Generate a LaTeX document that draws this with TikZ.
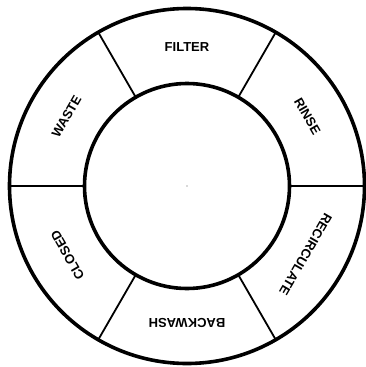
\documentclass[tikz,border=0pt]{standalone}
\usepackage{fontspec}
\setmainfont{Liberation Sans}

\begin{document}
\begin{tikzpicture}[
  x=1pt,y=1pt,
  rim/.style={line width=3.6pt},
  spoke/.style={line width=1.8pt},
  sector/.style={inner sep=0pt,font=\fontsize{13}{15}\selectfont\bfseries}
]
  \useasboundingbox (0,0) rectangle (366,-367);
  \coordinate (c) at (187,-186);
  % spokes between the sectors
  \foreach \a in {0,60,...,300}
    \draw[spoke] (c) ++(\a:102.5) -- ++(\a:75);
  \draw[rim] (c) circle[radius=177.5];
  \draw[rim] (c) circle[radius=102.5];
  \fill[gray!60] (c) circle[radius=0.8];
  % sector names, tops facing outward
  \node[sector,rotate=0] (filter) at ([shift={(90:139)}]c) {FILTER};
  \node[sector,rotate=-60] (rinse) at ([shift={(30:139)}]c) {RINSE};
  \node[sector,rotate=-120] (recirc) at ([shift={(-30:137)}]c) {RECIRCULATE};
  \node[sector,rotate=180] (backwash) at ([shift={(-90:137)}]c) {BACKWASH};
  \node[sector,rotate=120] (closed) at ([shift={(210:138)}]c) {CLOSED};
  \node[sector,rotate=60] (waste) at ([shift={(150:139)}]c) {WASTE};
\end{tikzpicture}
\end{document}
